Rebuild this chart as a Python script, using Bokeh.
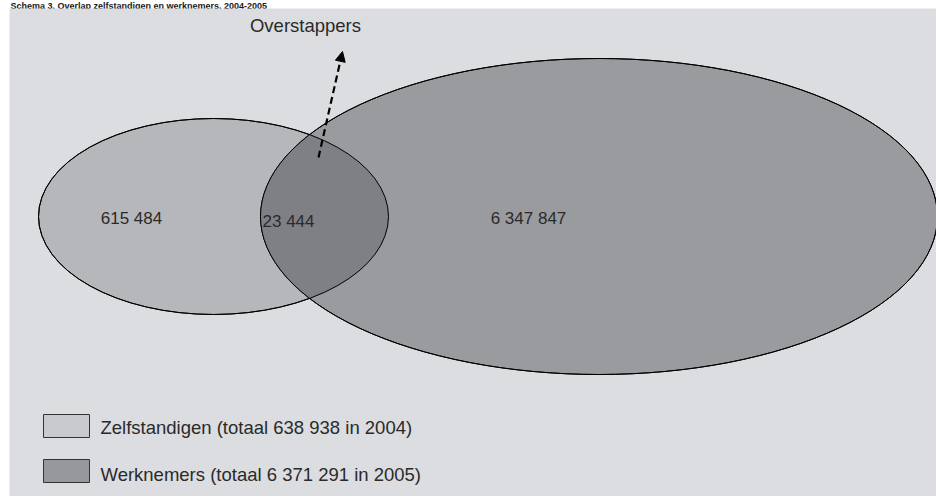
import numpy as np
from bokeh.plotting import figure
from bokeh.models import Range1d, Arrow, NormalHead, ColumnDataSource
from bokeh.core.properties import value
from bokeh.embed import file_html
from bokeh.resources import INLINE

# ---- data ----
title = "Schema 3. Overlap zelfstandigen en werknemers, 2004-2005"
groups = ["Zelfstandigen", "Werknemers"]
only_counts = ["615 484", "6 347 847"]
overlap_count = "23 444"
overlap_label = "Overstappers"
legend_labels = ["Zelfstandigen (totaal 638 938 in 2004)",
                 "Werknemers (totaal 6 371 291 in 2005)"]

# ---- layout (pixel coordinates of the picture) ----
ell_cx = [213, 598.5]
ell_cy = [216, 216]
ell_w = [350, 677]
ell_h = [196, 316]
ell_fill = ["#b6b7bb", "#9a9b9f"]
overlap_fill = "#7f8085"
legend_fill = ["#c9cacd", "#97989c"]
bg = "#dcdde0"
txt_col = "#2a2a2a"
FONT = "Liberation Sans"

W, H = 936, 496
p = figure(width=W, height=H, output_backend="svg", toolbar_location=None,
           x_range=Range1d(0, W), y_range=Range1d(H, 0),
           min_border=0, background_fill_color="white", border_fill_color="white",
           outline_line_color=None)
p.axis.visible = False
p.grid.visible = False

# small title in the white strip at the very top
p.text(x=[10], y=[0], text=[title], text_align="left", text_baseline="top",
       text_font=value(FONT), text_font_style="bold", text_font_size="9px",
       text_color="#1a1a1a")

# grey panel
p.quad(left=[9], right=[W], top=[8], bottom=[H], fill_color=bg, line_color=None)

# ellipses
src = ColumnDataSource(dict(x=ell_cx, y=ell_cy, w=ell_w, h=ell_h, c=ell_fill))
p.ellipse(x="x", y="y", width="w", height="h", fill_color="c", line_color="black",
          line_width=1, source=src)

# overlap region (computed intersection)
t = np.linspace(0, 2 * np.pi, 1440, endpoint=False)
def boundary(i):
    return (ell_cx[i] + ell_w[i] / 2 * np.cos(t), ell_cy[i] + ell_h[i] / 2 * np.sin(t))
def inside(i, x, y):
    return ((x - ell_cx[i]) / (ell_w[i] / 2)) ** 2 + ((y - ell_cy[i]) / (ell_h[i] / 2)) ** 2 <= 1
ax, ay = boundary(0)
bx, by = boundary(1)
m0 = inside(1, ax, ay)
m1 = inside(0, bx, by)
px = np.concatenate([ax[m0], bx[m1]])
py = np.concatenate([ay[m0], by[m1]])
ccx, ccy = px.mean(), py.mean()
order = np.argsort(np.arctan2(py - ccy, px - ccx))
p.patch(px[order], py[order], fill_color=overlap_fill, line_color=None)

# outlines again on top
p.ellipse(x="x", y="y", width="w", height="h", fill_color=None, line_color="black",
          line_width=1, source=src)

# numbers
p.text(x=[131, 528], y=[218, 218], text=only_counts, text_align="center",
       text_baseline="middle", text_font=value(FONT), text_font_size="17px",
       text_color=txt_col)
p.text(x=[288], y=[221], text=[overlap_count], text_align="center",
       text_baseline="middle", text_font=value(FONT), text_font_size="17px",
       text_color=txt_col)

# arrow + label
p.add_layout(Arrow(x_start=318, y_start=157, x_end=342, y_end=51,
                   line_color="black", line_width=2.2, line_dash="7 4",
                   end=NormalHead(size=10, fill_color="black", line_color="black")))
p.text(x=[305], y=[25], text=[overlap_label], text_align="center",
       text_baseline="middle", text_font=value(FONT), text_font_size="18.5px",
       text_color=txt_col)

# legend
p.rect(x=[66, 66], y=[425.5, 470.5], width=46, height=23, fill_color=legend_fill,
       line_color="#333333", line_width=1)
p.text(x=[100, 100], y=[427, 474], text=legend_labels, text_align="left",
       text_baseline="middle", text_font=value(FONT), text_font_size="18.5px",
       text_color=txt_col)

open("out.html", "w").write(file_html(p, INLINE))
